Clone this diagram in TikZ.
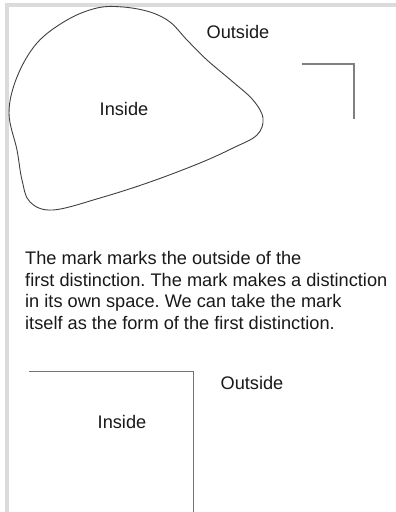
\documentclass[tikz,border=0pt]{standalone}
\usepackage{fontspec}
\setmainfont{Liberation Sans}
\frenchspacing
\begin{document}
\begin{tikzpicture}[x=1pt,y=-1pt,
  lbl/.style={inner sep=0pt,font=\fontsize{18.2}{21.5}\selectfont\frenchspacing,text=black!90},
  frame/.style={fill=black!14,draw=none},
  blobline/.style={draw=black!75,line width=0.9pt},
  markline/.style={draw=black!50,line width=1.2pt},
  formline/.style={draw=black!55,line width=1pt}]
\useasboundingbox (0,0) rectangle (396,512);
\fill[white] (0,0) rectangle (396,512);
% page frame
\path[frame] (5,3) rectangle (396,7);
\path[frame] (5,3) rectangle (9,512);
% blob
\draw[blobline] plot[smooth cycle,tension=0.6] coordinates {
 (123,7) (150,12) (170,22) (187,40) (207,60) (233,82) (253,100) (263,118)
 (257,135) (233,148) (200,163) (150,182) (100,198) (53,210) (30,202)
 (22,180) (17,150) (9,113) (17,77) (37,43) (67,20) (97,8)};
\node[lbl] (outside1) at (238,32) {Outside};
\node[lbl] (inside1) at (124,109) {Inside};
% corner mark
\coordinate (m1) at (302,64);
\coordinate (m2) at (354,64);
\coordinate (m3) at (354,119);
\draw[markline] (m1) -- (m2) -- (m3);
% paragraph
\node[lbl,align=left,anchor=north west] (para) at (25,251.4)
 {The mark marks the outside of the\\
  first distinction. The mark makes a distinction\\
  in its own space. We can take the mark\\
  itself as the form of the first distinction.};
% form
\coordinate (f1) at (29,371);
\coordinate (f2) at (193,371);
\coordinate (f3) at (193,512);
\draw[formline] (f1) -- (f2) -- (f3);
\node[lbl] (outside2) at (252,383) {Outside};
\node[lbl] (inside2) at (122,422) {Inside};
\end{tikzpicture}
\end{document}
